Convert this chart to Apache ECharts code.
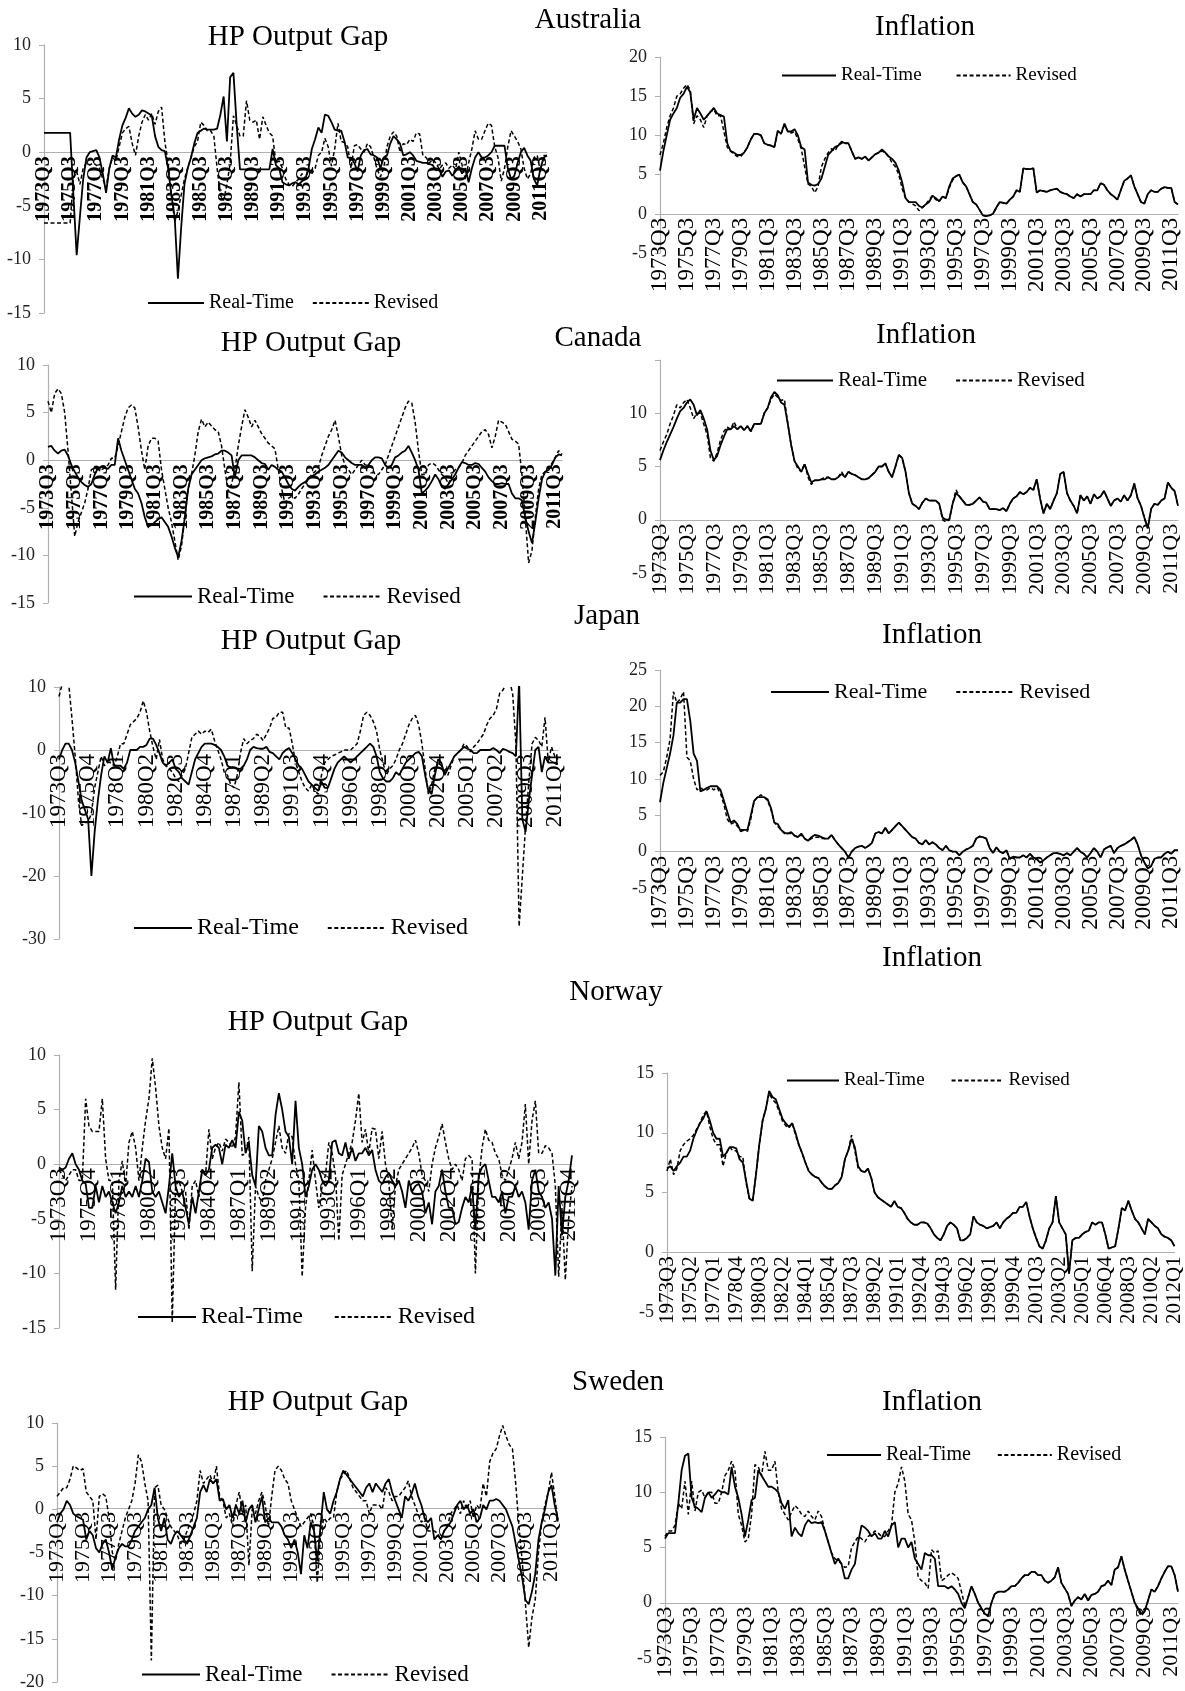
<!DOCTYPE html>
<html>
<head>
<meta charset="utf-8">
<script src="https://cdn.jsdelivr.net/npm/echarts@6/dist/echarts.min.js"></script>
<style>
html, body { margin: 0; padding: 0; background: #fff; }
#chart { width: 1185px; height: 1691px; }
</style>
</head>
<body>
<div id="chart"></div>
<script>
// quarterly categories 1973Q3 .. 2012Q1
var quarters = [];
for (var k = 0; k < 155; k++) {
    var m = k + 2;
    quarters.push((1973 + Math.floor(m / 4)) + 'Q' + (m % 4 + 1));
}

// ---- Australia ----
var auGapRT = [1.8,1.8,1.8,1.8,1.8,1.8,1.8,1.8,
 1.8,-4.0,-9.6,-6.0,-2.5,-0.5,0.0,0.1,
 0.2,-0.5,-2.0,-3.8,-1.5,-0.3,-0.5,1.2,
 2.5,3.2,4.1,3.6,3.3,3.5,3.9,3.8,
 3.6,3.4,1.5,0.5,0.2,0.1,-1.5,-4.0,
 -6.0,-11.8,-7.0,-3.0,-1.5,-0.5,0.8,1.8,
 2.0,2.2,2.1,2.1,2.1,2.2,3.5,5.2,
 1.0,7.0,7.4,2.5,-1.6,-1.6,-1.6,-1.6,
 -1.6,-1.6,-1.6,-1.6,-1.6,-1.6,0.3,-1.2,
 -1.5,-2.8,-3.0,-3.1,-2.9,-2.8,-3.0,-2.7,
 -2.5,-1.5,0.3,1.2,2.3,1.8,3.5,3.4,
 2.8,2.1,2.0,2.0,1.0,-0.5,-0.5,-1.0,
 -1.8,-0.3,0.2,0.3,-0.2,-0.3,-0.5,-1.5,
 -0.5,-0.3,0.8,1.5,1.2,0.8,-0.3,-0.2,
 0.0,-0.3,-0.8,-0.9,-1.0,-1.0,-1.1,-1.2,
 -1.7,-1.5,-2.3,-1.8,-1.7,-2.2,-1.8,-1.3,
 -2.0,-1.5,-2.8,-1.5,-0.5,0.0,-0.5,-0.5,
 -0.3,0.0,0.6,0.6,0.6,0.6,-1.5,-2.5,
 -2.2,-1.0,0.0,0.4,-0.3,-0.8,-2.5,-3.1,
 -1.5,-0.5,-0.3];
var auGapRev = [-6.6,-6.6,-6.6,-6.6,-6.6,-6.6,-6.6,-6.6,
 -6.6,-2.5,-1.8,-3.0,-1.5,-1.0,-1.2,-1.0,
 -1.2,-1.5,-2.5,-3.3,-1.5,-0.5,-0.8,0.5,
 1.8,2.2,2.4,0.8,-0.3,1.5,2.8,3.5,
 3.0,3.6,2.6,3.8,4.2,1.0,-1.0,-4.0,
 -6.5,-5.5,-4.0,-2.5,-1.5,-0.5,0.5,1.0,
 2.8,2.5,2.0,2.0,1.5,-1.5,-4.0,-4.5,
 -3.0,-1.0,3.4,2.5,1.5,1.5,4.8,3.0,
 2.8,3.0,1.2,3.3,2.5,1.8,1.5,-1.0,
 -0.8,-1.5,-2.5,-3.0,-3.2,-2.8,-2.5,-2.0,
 -2.5,-1.5,-2.0,-1.5,-0.3,0.0,1.3,0.5,
 -1.3,0.3,2.7,1.0,0.9,0.5,-1.5,0.6,
 0.7,0.3,0.0,0.8,0.5,-0.5,-1.6,-2.3,
 -1.5,0.5,1.5,1.9,1.5,0.0,0.8,0.7,
 1.2,1.0,1.8,1.7,-0.3,-0.5,-1.0,-0.7,
 -1.0,-1.6,-1.2,-1.0,-1.5,-1.2,-1.6,0.0,
 -1.2,-2.5,-1.0,0.3,2.0,1.2,1.2,2.0,
 2.7,2.5,0.5,-0.5,-2.7,-1.5,0.5,2.0,
 1.5,1.0,0.3,-1.5,-2.5,-2.0,-0.5,-0.3,
 -1.8,-0.3,-0.3];
var auInfRT = [5.5,8.0,10.0,12.0,12.8,13.5,14.8,15.3,
 16.2,15.5,12.0,13.5,12.8,12.0,12.5,13.0,
 13.5,12.8,12.6,12.4,9.0,8.0,7.8,7.5,
 7.5,7.8,8.5,9.5,10.2,10.2,10.0,9.0,
 8.8,8.7,8.5,10.6,10.2,11.5,10.5,10.5,
 10.8,10.0,8.5,8.2,4.0,3.7,3.6,3.8,
 4.5,6.0,7.5,8.0,8.5,8.7,9.2,9.0,
 9.0,8.0,7.0,7.2,7.0,7.3,6.8,7.2,
 7.6,7.8,8.2,7.8,7.3,7.0,6.5,5.5,
 4.0,2.0,1.5,1.5,1.5,1.0,0.8,1.2,
 1.5,2.3,2.0,1.6,2.2,2.0,3.5,4.5,
 4.8,5.0,4.0,3.5,2.5,1.5,1.2,0.5,
 -0.2,-0.3,-0.2,0.0,0.8,1.5,1.4,1.3,
 1.8,2.2,3.0,2.8,5.8,5.7,5.7,5.8,
 2.7,3.0,2.9,2.8,3.0,3.1,3.2,2.8,
 2.6,2.5,2.2,2.0,2.5,2.2,2.5,2.5,
 2.5,3.0,3.0,3.9,3.7,3.0,2.5,2.2,
 1.8,3.0,4.2,4.5,4.9,3.5,2.5,1.5,
 1.3,2.5,3.0,2.8,2.8,3.2,3.4,3.3,
 3.3,1.5,1.2];
var auInfRev = [7.5,9.0,11.0,12.5,13.5,15.0,15.3,16.0,
 16.5,15.8,11.5,12.5,12.0,11.0,12.5,13.0,
 13.3,12.5,12.5,10.5,8.5,8.0,7.6,7.3,
 7.3,7.8,8.5,9.5,10.2,10.2,10.0,9.0,
 8.8,8.7,8.5,10.4,10.2,11.3,10.5,10.3,
 10.5,9.5,8.3,6.0,3.8,3.5,2.7,3.5,
 6.0,7.0,7.8,8.3,8.0,8.8,9.0,9.0,
 9.0,8.0,7.0,7.2,7.0,7.3,6.8,7.2,
 7.6,7.8,8.0,7.8,7.3,6.5,6.0,5.0,
 3.2,2.0,1.5,1.3,1.0,0.4,0.8,1.2,
 1.8,2.3,1.8,1.6,2.2,2.0,3.3,4.3,
 4.8,5.0,4.0,3.5,2.5,1.5,1.2,0.5,
 -0.2,-0.3,-0.2,0.0,0.8,1.5,1.4,1.3,
 1.8,2.2,3.0,2.8,5.8,5.7,5.7,5.8,
 2.7,3.0,2.9,2.8,3.0,3.1,3.2,2.8,
 2.6,2.5,2.2,2.0,2.5,2.2,2.5,2.5,
 2.5,3.0,3.0,3.9,3.7,3.0,2.5,2.2,
 1.8,3.0,4.2,4.5,4.9,3.5,2.5,1.5,
 1.3,2.5,3.0,2.8,2.8,3.2,3.4,3.3,
 3.3,1.5,1.2];

// ---- Canada ----
var caGapRT = [1.4,1.5,1.0,0.7,1.0,1.1,0.5,-0.5,
 -1.2,-1.8,-2.3,-2.6,-2.8,-2.5,-1.5,-0.8,
 -0.7,-0.8,-0.9,-0.5,-0.5,2.3,1.0,0.0,
 -1.0,-2.0,-3.0,-3.5,-4.5,-6.0,-7.0,-6.8,
 -6.5,-6.2,-6.0,-6.5,-7.0,-8.0,-9.2,-10.2,
 -8.5,-6.0,-3.0,-1.5,-1.0,-0.5,0.0,0.2,
 0.3,0.4,0.6,0.7,1.0,1.0,0.8,0.5,
 -1.8,0.0,0.5,0.5,0.5,0.5,0.3,0.0,
 -0.3,-0.4,-1.0,-0.5,-0.7,-1.0,-1.2,-1.8,
 -2.5,-3.0,-3.2,-2.8,-2.5,-2.3,-2.0,-1.7,
 -1.5,-1.2,-1.0,-0.8,-0.5,0.0,0.5,1.0,
 0.8,0.3,0.0,-0.3,-0.5,-0.5,-0.5,-0.8,
 -0.5,0.0,0.3,0.3,0.2,-0.5,-0.8,-0.5,
 0.3,0.5,0.8,1.0,1.5,0.8,0.0,-1.0,
 -3.5,-3.2,-2.8,-2.2,-1.5,-2.0,-2.8,-3.0,
 -2.5,-2.0,-1.5,-0.8,-0.2,-0.3,-0.5,-0.5,
 -0.3,-0.4,-0.8,-1.2,-1.8,-2.2,-2.5,-2.5,
 -2.4,-2.5,-2.5,-3.5,-4.0,-4.0,-4.2,-6.0,
 -7.5,-8.7,-6.5,-4.0,-2.0,-1.2,-1.0,-0.5,
 0.3,0.6,0.5];
var caGapRev = [6.2,5.0,7.0,7.5,7.0,5.0,1.0,-3.5,
 -8.0,-6.5,-5.5,-4.5,-3.0,-1.0,-0.8,-1.0,
 -1.0,-0.8,-0.5,0.2,0.2,1.5,3.0,4.5,
 5.5,5.8,5.5,3.5,1.0,-1.0,1.5,2.3,
 2.3,2.0,-1.0,-3.0,-5.0,-6.5,-8.5,-10.5,
 -9.0,-6.0,-3.0,-1.5,0.5,3.0,4.3,3.5,
 4.0,3.6,3.2,3.0,1.5,-1.0,-3.3,-2.5,
 -1.0,1.5,3.5,5.3,4.5,3.5,4.2,3.5,
 2.8,2.3,1.8,1.5,1.2,-1.0,-3.0,-4.5,
 -4.0,-3.8,-4.0,-3.6,-3.0,-2.5,-2.0,-1.5,
 -1.2,-0.8,0.5,1.5,2.5,3.2,4.2,2.5,
 0.5,-0.5,-1.0,-1.5,-1.0,-0.5,0.0,-0.5,
 -0.5,-0.8,-1.5,-1.5,-1.0,-0.5,0.5,1.5,
 2.5,3.5,4.5,5.5,6.2,6.0,4.0,1.0,
 -1.5,-1.5,-0.5,-0.3,-0.5,-1.0,-1.5,-1.8,
 -2.5,-1.5,-1.0,-0.8,-0.3,0.5,1.0,1.5,
 2.0,2.5,3.0,3.2,2.7,1.3,2.5,4.2,
 4.0,3.8,3.0,2.2,2.0,1.7,-1.5,-6.0,
 -10.8,-9.5,-6.0,-3.0,-1.5,-1.2,-1.0,-0.3,
 0.3,1.0,0.6];
var caInfRT = [5.6,6.5,7.3,8.0,8.7,9.5,10.2,10.5,
 11.0,11.3,10.8,9.8,10.3,9.5,8.5,6.5,
 5.6,6.0,7.0,7.8,8.5,8.5,8.8,8.5,
 8.8,8.4,8.8,8.3,9.0,9.0,9.0,10.0,
 10.5,11.5,12.0,11.7,11.0,10.8,9.0,7.0,
 5.5,5.0,4.5,5.2,4.3,3.5,3.7,3.7,
 3.8,3.8,4.0,3.8,3.8,4.0,4.3,4.0,
 4.5,4.3,4.2,4.0,3.8,3.8,3.9,4.2,
 4.5,5.0,5.0,5.3,4.5,4.0,5.0,6.1,
 5.8,4.5,2.5,1.5,1.3,1.0,1.6,2.0,
 1.8,1.8,1.8,1.5,0.2,0.0,0.0,1.5,
 2.5,2.2,1.8,1.4,1.4,1.5,1.8,2.1,
 1.7,1.6,1.0,1.0,1.0,0.9,1.1,0.8,
 1.5,2.0,2.2,2.6,2.4,2.6,3.0,2.8,
 3.8,2.0,0.6,1.5,1.0,1.8,2.5,4.3,
 4.5,2.5,1.8,1.3,0.6,2.3,1.8,2.2,
 1.5,2.4,2.0,2.2,2.7,2.0,1.3,1.8,
 2.0,1.7,2.3,1.8,2.3,3.4,2.0,1.3,
 0.2,-0.8,1.0,1.5,1.4,1.8,2.0,3.5,
 3.0,2.7,1.3];
var caInfRev = [6.5,7.3,8.0,9.0,9.8,10.8,10.5,11.0,
 11.3,10.5,9.5,10.0,10.0,9.0,8.0,5.8,
 5.5,6.3,7.5,8.3,8.7,8.5,9.2,8.5,
 8.8,8.4,8.8,8.3,9.0,9.0,9.0,10.0,
 10.5,11.3,11.8,11.5,11.2,11.3,9.0,7.0,
 5.5,4.8,4.5,5.3,4.0,3.3,3.7,3.7,
 3.8,4.0,4.0,3.8,3.8,4.0,4.5,4.0,
 4.5,4.3,4.2,4.0,3.8,3.8,3.9,4.2,
 4.5,5.0,5.0,5.3,4.5,4.0,5.0,6.1,
 5.8,4.5,2.5,1.5,1.3,1.0,1.6,2.0,
 1.8,1.8,1.8,1.5,0.0,-0.2,0.0,1.5,
 2.8,2.2,1.8,1.4,1.4,1.5,1.8,2.1,
 1.7,1.6,1.0,1.0,1.0,0.9,1.1,0.8,
 1.5,2.0,2.2,2.6,2.4,2.6,3.0,2.8,
 3.8,2.0,0.6,1.5,1.0,1.8,2.5,4.3,
 4.5,2.5,1.8,1.3,0.6,2.3,1.8,2.2,
 1.5,2.4,2.0,2.2,2.7,2.0,1.3,1.8,
 2.0,1.7,2.3,1.8,2.3,3.4,2.0,1.3,
 0.2,-0.8,1.0,1.5,1.4,1.8,2.0,3.5,
 3.0,2.7,1.3];

// ---- Japan ----
var jpGapRT = [-1.5,0.0,1.0,1.0,0.0,-2.0,-5.0,-8.0,
 -9.5,-11.0,-20.0,-13.0,-8.0,-4.0,-1.0,-2.0,
 0.3,-2.5,-2.5,-2.5,-3.0,-2.0,0.0,0.0,
 0.0,0.5,0.5,0.8,1.8,1.8,0.8,-0.5,
 -2.0,-2.5,-2.0,-1.5,-3.0,-3.5,-4.5,-5.0,
 -5.5,-3.5,-1.5,-0.5,0.5,1.0,1.0,1.0,
 0.8,0.5,0.0,-1.0,-2.5,-2.8,-2.8,-3.0,
 -3.0,-2.5,-1.5,0.0,0.5,0.3,0.2,0.2,
 0.5,-0.3,-0.5,-1.0,-1.5,-0.5,0.0,0.3,
 -0.5,-1.5,-2.5,-3.0,-4.0,-5.0,-5.5,-6.0,
 -6.5,-5.0,-6.0,-6.0,-4.5,-3.0,-2.0,-1.5,
 -1.0,-1.5,-2.0,-1.5,-1.0,-0.5,0.0,0.5,
 1.0,0.5,-1.0,-3.5,-4.5,-5.0,-5.0,-4.5,
 -3.5,-4.0,-3.0,-2.0,-1.5,-1.0,-0.5,-0.3,
 -1.0,-4.0,-6.5,-7.0,-4.0,-1.5,-2.0,-4.0,
 -3.0,-2.0,-1.0,-0.5,0.0,0.5,0.2,0.0,
 -0.5,-0.5,0.0,0.0,0.0,0.0,0.3,0.0,
 -0.5,0.2,0.0,-0.3,-0.5,-1.0,11.0,-11.0,
 -13.0,-8.0,-4.0,0.0,0.5,-3.5,-1.0,-2.0,
 -2.0,-2.0,-2.2];
var jpGapRev = [8.5,10.5,11.0,10.5,5.0,-1.0,-8.0,-12.0,
 -11.5,-11.5,-10.0,-6.0,-3.5,-1.0,-2.5,-2.0,
 -2.0,-2.5,-1.0,1.0,1.0,2.5,4.0,4.5,
 5.0,6.0,7.8,6.0,3.0,0.5,-1.5,1.7,
 -1.5,-2.5,-3.0,-3.5,-4.5,-5.0,-4.0,-3.0,
 -0.5,2.0,2.5,3.0,2.5,3.0,2.8,3.3,
 1.5,0.0,-1.5,-3.5,-4.0,-5.5,-6.0,-4.0,
 -0.5,1.8,1.0,1.5,1.8,2.5,2.2,1.5,
 2.5,3.5,5.0,5.2,6.0,6.0,3.5,3.5,
 1.0,-2.0,-3.5,-5.0,-6.0,-6.5,-5.5,-6.5,
 -7.0,-4.0,-2.0,-1.5,-1.0,-0.8,-0.5,-0.3,
 0.0,0.0,0.0,0.5,1.0,3.0,5.5,6.0,
 5.5,4.5,3.0,0.0,-2.0,-4.0,-3.0,-2.5,
 -1.5,0.0,1.0,2.5,4.0,5.0,5.5,4.0,
 1.0,-3.0,-7.0,-5.5,-3.0,-2.0,-2.5,-3.5,
 -4.0,-2.5,-1.0,-0.5,0.0,1.0,0.5,-0.3,
 0.5,1.0,1.8,2.5,4.0,5.0,5.5,6.5,
 9.0,9.5,10.5,11.0,9.0,1.0,-28.0,-20.0,
 -12.0,-5.0,1.0,2.0,1.5,0.5,5.2,-2.0,
 0.5,-1.0,-1.5];
var jpInfRT = [6.8,9.5,11.5,13.5,16.0,20.5,20.5,21.0,
 21.0,18.0,13.5,12.5,8.3,8.5,8.8,9.0,
 9.0,9.0,8.5,7.0,5.5,4.0,4.3,3.8,
 2.8,3.0,3.0,5.0,7.0,7.5,7.5,7.5,
 7.2,6.0,4.0,3.8,3.0,2.6,2.5,2.7,
 2.2,2.0,2.5,1.8,1.5,2.0,2.3,2.2,
 2.0,1.8,1.8,2.3,1.6,1.0,0.5,0.0,
 -0.8,0.0,0.5,0.7,0.8,0.5,0.8,1.2,
 2.5,2.7,2.5,3.3,2.5,3.0,3.5,4.0,
 3.5,3.0,2.5,2.0,1.8,1.2,1.0,1.6,
 1.0,1.3,1.0,0.5,0.2,0.8,0.2,0.0,
 0.0,-0.5,0.0,0.3,0.5,0.8,1.8,2.1,
 2.0,1.8,0.5,-0.2,0.6,0.0,-0.2,0.2,
 -1.0,-0.7,-0.8,-0.8,-0.5,-0.8,-0.3,-0.8,
 -1.0,-1.5,-1.2,-0.8,-0.5,-0.2,-0.2,-0.3,
 -0.5,-0.2,-0.5,0.0,0.5,0.0,-0.3,-0.8,
 -0.2,0.5,0.0,-0.8,0.3,0.6,0.8,-0.2,
 0.5,0.8,1.0,1.3,1.6,2.0,1.0,-0.5,
 -1.5,-2.3,-2.0,-1.0,-0.8,-0.8,-0.3,0.0,
 -0.3,0.2,0.2];
var jpInfRev = [10.5,11.0,13.0,15.5,22.0,20.5,21.0,22.0,
 13.0,12.5,10.0,8.5,8.8,8.5,8.5,8.8,
 8.5,8.8,8.0,6.5,4.5,3.8,4.0,3.5,
 3.0,3.0,2.8,4.5,7.0,7.5,7.8,7.5,
 7.0,5.8,4.0,3.5,3.0,2.5,2.5,2.5,
 2.2,2.0,2.3,1.8,1.5,1.8,2.0,2.0,
 1.8,1.8,1.8,2.3,1.6,1.0,0.5,0.0,
 -0.8,0.0,0.5,0.7,0.8,0.5,0.8,1.2,
 2.5,2.7,2.5,3.3,2.5,3.0,3.5,4.0,
 3.5,3.0,2.5,2.0,1.8,1.2,1.0,1.6,
 1.0,1.3,1.0,0.5,0.2,0.8,0.2,0.0,
 0.0,-0.5,0.0,0.3,0.5,0.8,1.8,2.1,
 2.0,1.8,0.5,-0.2,0.6,0.0,-0.2,0.2,
 -1.0,-0.7,-0.8,-0.8,-0.5,-0.8,-0.3,-0.8,
 -1.0,-1.5,-1.2,-0.8,-0.5,-0.2,-0.2,-0.3,
 -0.5,-0.2,-0.5,0.0,0.5,0.0,-0.3,-0.8,
 -0.2,0.5,0.0,-0.8,0.3,0.6,0.8,-0.2,
 0.5,0.8,1.0,1.3,1.6,2.0,1.0,-0.5,
 -1.5,-2.3,-2.0,-1.0,-0.8,-0.8,-0.3,0.0,
 -0.3,0.2,0.2];

// ---- Norway ----
var noGapRT = [-0.3,-0.5,-0.3,0.5,1.0,0.0,-0.5,-1.5,
 -1.8,-4.0,-4.0,-2.0,-3.5,-2.0,-3.0,-2.5,
 -3.5,-4.5,-3.5,-2.0,-3.0,-2.5,-3.0,-2.0,
 -3.0,-1.5,0.5,0.2,-2.5,-3.0,-2.5,-3.5,
 -4.5,-2.0,1.0,-2.0,-3.0,-2.5,-4.0,-5.5,
 -3.0,-4.5,-2.5,-0.5,-1.0,-0.5,1.5,1.8,
 1.5,0.0,1.8,1.5,2.2,1.5,4.8,4.0,
 1.0,2.0,-1.0,-2.0,3.5,3.0,1.5,0.8,
 0.8,4.5,6.5,5.0,3.0,2.5,0.0,5.8,
 1.5,0.0,-3.0,-2.0,-0.5,0.0,-0.5,-1.5,
 -2.0,-1.5,2.0,2.2,1.0,0.8,2.0,0.5,
 1.5,0.3,1.0,1.0,1.5,0.8,1.3,-0.5,
 -1.5,-1.8,-1.2,-0.8,-1.5,-2.0,-1.5,-2.5,
 -4.0,-1.5,-2.5,-2.0,-1.8,-2.5,-4.5,-3.5,
 -5.5,-2.5,-2.0,-0.5,-2.5,-4.0,-4.0,-5.5,
 -5.3,-4.0,-3.0,-3.5,-2.0,-6.0,-1.0,-0.3,
 0.0,-1.5,-3.0,-3.0,-3.5,-2.5,-4.5,-3.0,
 -3.0,-2.0,-3.0,-2.5,-3.5,-6.0,-1.5,-0.5,
 -2.5,-3.0,-4.0,-3.5,-5.0,-10.2,-2.0,-6.5,
 -3.0,-1.5,0.8];
var noGapRev = [-0.5,-1.0,-1.5,-1.0,-0.5,-0.5,-1.5,-1.5,
 6.0,3.5,3.0,3.0,3.0,6.0,0.5,-1.5,
 -1.5,-11.5,-1.5,0.3,-2.0,2.0,3.0,1.5,
 -1.5,1.5,4.0,6.0,9.7,7.0,3.5,1.5,
 0.5,3.3,-14.5,-2.0,-1.5,-2.5,-2.5,-6.0,
 -2.0,-1.5,-3.0,-0.5,-1.0,3.2,0.5,1.5,
 2.0,1.2,2.3,2.0,1.5,2.5,7.5,0.8,
 1.0,2.5,-9.8,-2.0,-3.0,-3.5,-1.5,-0.5,
 0.5,2.0,3.5,1.5,1.0,2.8,2.5,0.0,
 -1.5,-10.3,-4.0,-1.5,1.3,-1.5,-4.0,-2.0,
 -1.0,2.0,1.0,-1.0,-7.0,-1.0,0.0,1.0,
 2.0,4.0,6.5,2.0,3.2,1.0,3.3,3.2,
 0.5,3.0,0.0,-1.5,-6.0,-2.0,-0.5,0.0,
 0.5,1.0,1.5,2.2,1.0,-1.0,-1.5,-2.5,
 0.0,1.5,2.5,3.7,2.0,0.5,-0.5,0.0,
 -0.5,-1.5,0.5,0.8,0.5,-10.0,-1.5,1.5,
 3.2,2.2,2.0,1.0,0.5,-1.0,-1.5,-0.5,
 0.5,2.0,0.5,2.0,5.5,0.0,4.0,5.8,
 1.0,1.0,1.7,1.5,1.0,-2.0,-10.3,-4.0,
 -10.6,-5.0,-2.0];
var noInfRT = [7.0,7.2,6.8,7.2,7.5,8.0,8.0,8.5,
 9.5,10.2,10.8,11.2,11.8,11.0,10.0,9.5,
 9.5,8.0,8.3,8.8,8.8,8.7,7.8,7.5,
 6.0,4.5,4.3,6.5,9.0,11.0,12.0,13.5,
 13.0,12.8,12.0,11.2,10.8,10.5,10.8,10.0,
 9.0,8.3,7.5,6.8,6.5,6.3,6.2,5.8,
 5.5,5.3,5.3,5.6,5.8,6.3,7.8,8.5,
 9.5,8.8,7.2,6.8,6.7,7.0,6.2,5.0,
 4.6,4.4,4.2,4.0,3.8,4.3,3.8,3.7,
 3.3,2.8,2.5,2.3,2.3,2.5,2.5,2.4,
 2.0,1.5,1.2,1.0,1.5,2.2,2.5,2.3,
 2.0,1.0,1.0,1.2,1.5,3.0,2.5,2.3,
 2.2,2.0,2.1,2.2,2.5,2.0,2.5,2.8,
 3.0,3.3,3.3,3.8,3.8,4.2,3.0,2.0,
 1.2,0.5,0.3,1.0,2.0,2.5,4.7,2.5,
 2.0,1.5,-1.8,1.0,1.2,1.2,1.5,1.7,
 1.8,2.5,2.3,2.5,2.5,1.5,0.3,0.4,
 0.5,2.0,3.7,3.5,4.3,3.5,2.8,2.5,
 2.0,1.5,2.8,2.5,2.2,2.0,1.5,1.3,
 1.2,1.0,0.5];
var noInfRev = [6.8,7.8,6.5,7.0,8.5,9.0,9.3,9.5,
 9.8,10.3,10.8,11.5,11.8,10.5,9.5,9.0,
 9.0,7.2,8.3,8.8,8.5,8.5,8.0,8.0,
 5.8,4.5,4.3,6.5,9.0,11.0,12.0,13.3,
 12.8,12.5,11.8,11.0,10.6,10.4,10.8,9.8,
 9.0,8.3,7.5,6.8,6.5,6.3,6.2,5.8,
 5.5,5.3,5.3,5.6,5.8,6.3,7.8,8.5,
 9.8,8.5,7.0,6.8,6.7,7.0,6.2,5.0,
 4.6,4.4,4.2,4.0,3.8,4.3,3.8,3.7,
 3.3,2.8,2.5,2.3,2.3,2.5,2.5,2.4,
 2.0,1.5,1.2,1.0,1.5,2.2,2.5,2.3,
 2.0,1.0,1.0,1.2,1.5,3.0,2.5,2.3,
 2.2,2.0,2.1,2.2,2.5,2.0,2.5,2.8,
 3.0,3.3,3.3,3.8,3.8,4.2,3.0,2.0,
 1.2,0.5,0.3,1.0,2.0,2.5,4.7,2.5,
 2.0,1.5,-1.8,1.0,1.2,1.2,1.5,1.7,
 1.8,2.5,2.3,2.5,2.5,1.5,0.3,0.4,
 0.5,2.0,3.7,3.5,4.3,3.5,2.8,2.5,
 2.0,1.5,2.8,2.5,2.2,2.0,1.5,1.3,
 1.2,1.0,0.5];

// ---- Sweden ----
var seGapRT = [-1.5,-0.5,0.0,1.0,0.5,-0.5,-0.8,-1.0,
 -1.2,-3.5,-2.5,-3.0,-4.5,-5.0,-4.0,-3.5,
 -5.0,-7.0,-5.5,-4.5,-4.0,-4.3,-4.3,-3.5,
 -2.5,-2.0,-1.5,-1.0,0.0,0.5,2.5,-1.0,
 -2.5,-1.0,-3.5,-4.0,-3.0,-2.5,-3.0,-3.5,
 -4.0,-3.0,-2.0,-1.0,2.0,2.8,2.0,3.5,
 3.0,3.5,1.0,1.2,0.0,0.5,-1.0,0.5,
 -0.5,1.0,-1.5,0.0,0.5,-1.5,0.0,1.5,
 -1.5,-1.0,-1.5,-1.5,-1.5,-2.0,-3.0,-3.5,
 -4.5,-3.5,-5.0,-7.5,-3.0,-4.5,-1.5,-2.5,
 -6.0,-2.0,2.0,0.0,-0.5,1.0,2.0,3.5,
 4.5,4.0,3.5,3.0,2.5,2.0,1.5,2.5,
 3.0,2.0,3.0,2.5,2.0,3.0,3.5,2.0,
 1.0,0.0,-1.0,1.5,1.0,1.8,3.0,1.5,
 0.5,-1.0,-1.5,-1.0,-3.5,-3.0,-3.5,-2.5,
 -2.0,-1.5,-0.5,0.5,1.0,0.0,0.5,-0.5,
 0.0,-1.5,-1.0,0.5,0.0,1.0,1.0,1.2,
 1.0,0.5,0.0,-1.0,-2.0,-4.0,-6.0,-8.0,
 -10.5,-11.0,-9.5,-7.5,-3.5,-1.5,0.0,2.0,
 2.8,0.5,-1.2];
var seGapRev = [1.5,2.0,2.5,2.5,3.5,5.0,4.8,4.5,
 4.7,2.0,1.5,1.0,-3.5,1.5,1.8,1.5,
 -1.0,-5.0,-6.0,-4.0,-2.5,-1.0,0.0,1.0,
 3.0,6.3,5.5,3.0,1.0,-17.5,2.5,2.8,
 0.5,0.0,-1.0,-2.0,-2.5,-3.0,-4.0,-3.5,
 -2.5,-1.5,-0.5,1.0,4.5,3.0,3.5,4.0,
 3.0,5.0,1.5,1.0,-1.0,-0.5,-2.0,0.5,
 2.0,-0.5,0.5,-6.5,0.0,-0.5,1.0,2.0,
 0.5,-2.0,1.5,4.5,5.0,4.5,3.5,3.0,
 1.0,0.0,-1.0,-2.0,-1.5,-1.0,-0.5,-2.0,
 -8.5,-3.0,-1.0,-1.5,-1.0,-1.0,2.0,3.5,
 4.0,4.5,3.5,2.5,2.0,1.5,1.0,1.0,
 -0.5,0.5,0.5,0.5,0.0,2.5,2.0,1.0,
 1.5,1.5,2.0,2.5,3.3,1.5,0.5,-0.5,
 -1.5,-1.0,-2.5,-2.5,-2.5,-2.8,-3.5,-2.5,
 -2.0,-0.5,0.0,0.5,-0.5,1.0,0.0,1.0,
 -1.0,0.5,0.0,3.0,1.5,5.5,6.5,7.0,
 8.5,9.7,8.5,7.5,7.0,3.0,-2.0,-6.0,
 -11.0,-16.0,-12.5,-10.5,-5.0,-1.5,0.5,2.0,
 4.3,1.5,-1.5];
var seInfRT = [5.8,6.3,6.3,6.3,9.0,12.0,13.3,13.5,
 9.5,8.7,8.5,8.2,9.5,10.0,9.5,9.8,
 10.2,10.0,10.0,9.8,12.3,10.5,9.5,8.0,
 6.0,7.5,9.3,9.5,12.0,11.5,11.0,10.5,
 10.5,10.3,10.0,9.0,8.5,9.3,6.0,6.8,
 6.3,6.0,7.0,7.5,7.2,7.3,7.2,7.3,
 6.5,5.5,4.5,3.5,4.0,3.5,2.2,2.2,
 3.0,3.5,5.5,7.0,6.8,6.5,6.0,6.3,
 5.8,5.8,6.5,6.0,7.0,7.3,5.0,5.8,
 5.8,5.0,5.5,4.0,3.5,3.0,4.5,4.3,
 4.3,4.0,1.5,1.5,1.5,1.3,1.5,1.2,
 0.8,0.0,-0.5,0.5,1.5,0.8,0.0,-0.5,
 -1.0,-1.2,0.0,0.8,1.0,1.0,1.0,1.2,
 1.5,1.5,1.8,2.2,2.5,2.5,2.8,2.8,
 2.5,2.5,2.0,1.8,2.0,2.3,3.2,1.8,
 1.3,0.8,-0.3,0.2,0.5,0.3,0.8,0.2,
 0.7,0.8,1.0,1.5,1.6,2.0,1.6,3.0,
 3.2,4.2,3.0,2.0,1.0,0.0,-0.5,-1.0,
 -0.8,0.2,1.2,1.0,1.5,2.2,2.8,3.3,
 3.3,2.5,1.0];
var seInfRev = [6.0,6.5,6.5,7.0,9.0,8.5,11.0,8.0,
 11.0,8.3,10.0,10.2,9.5,10.0,10.0,9.0,
 9.0,10.0,11.5,12.0,12.8,12.0,8.0,7.0,
 5.5,5.8,8.0,12.5,12.3,11.5,13.7,12.0,
 12.0,12.8,10.0,8.5,8.0,7.5,8.2,8.8,
 8.5,8.0,7.8,8.3,7.8,7.5,8.3,7.8,
 6.5,5.5,4.5,4.0,3.8,3.5,3.2,3.3,
 5.0,5.5,6.0,5.8,5.5,6.0,6.2,6.5,
 6.3,6.0,6.0,6.5,7.0,10.0,10.8,12.3,
 11.0,8.0,7.5,5.5,2.3,2.0,1.8,1.3,
 4.8,4.5,4.7,2.0,2.2,2.5,2.7,2.5,
 2.2,1.0,-0.3,0.5,1.5,0.8,0.0,-0.5,
 -1.0,-1.2,0.0,0.8,1.0,1.0,1.0,1.2,
 1.5,1.5,1.8,2.2,2.5,2.5,2.8,2.8,
 2.5,2.5,2.0,1.8,2.0,2.3,3.2,1.8,
 1.3,0.8,-0.3,0.2,0.5,0.3,0.8,0.2,
 0.7,0.8,1.0,1.5,1.6,2.0,1.6,3.0,
 3.2,4.2,3.0,2.0,1.0,0.0,-0.7,-1.2,
 -0.8,0.2,1.2,1.0,1.5,2.2,2.8,3.3,
 3.3,2.5,1.0];

// layout of the ten panels: grid box [left, top, width, height], y range [min, max, step],
// label step, label font, legend [left, centreY, fontSize, gap, iconWidth]
var panels = [
    {rt: auGapRT, rev: auGapRev, box: [44, 45, 503, 268], y: [-15, 10, 5], every: 7, xf: 20, bold: true, lg: [142, 300, 20, 18, 56]},
    {rt: auInfRT, rev: auInfRev, box: [660, 57, 518, 196], y: [-5, 20, 5], every: 7, xf: 23, lg: [776, 73, 19, 34, 54]},
    {rt: caGapRT, rev: caGapRev, box: [48, 365, 514, 238], y: [-15, 10, 5], every: 7, xf: 20, bold: true, lg: [128, 592, 23, 28, 58]},
    {rt: caInfRT, rev: caInfRev, box: [660, 360, 518, 213], y: [-5, 15, 5], every: 7, xf: 22, hideTop: true, lg: [771, 377, 21, 28, 56]},
    {rt: jpGapRT, rev: jpGapRev, box: [59, 687, 499, 252], y: [-30, 10, 10], every: 8, xf: 23, lg: [128, 923, 24, 28, 58]},
    {rt: jpInfRT, rev: jpInfRev, box: [660, 670, 518, 218], y: [-5, 25, 5], every: 7, xf: 23, lg: [765, 688, 22, 28, 58]},
    {rt: noGapRT, rev: noGapRev, box: [59, 1055, 513, 273], y: [-15, 10, 5], every: 8, xf: 23, lg: [132, 1312, 24, 31, 58]},
    {rt: noInfRT, rev: noInfRev, box: [667, 1073, 508, 239], y: [-5, 15, 5], every: 6, xf: 21, lg: [781, 1078, 19, 26, 52]},
    {rt: seGapRT, rev: seGapRev, box: [57, 1423, 501, 261], y: [-20, 10, 5], every: 7, xf: 22, lg: [136, 1670, 23, 28, 58]},
    {rt: seInfRT, rev: seInfRev, box: [665, 1437, 513, 221], y: [-5, 15, 5], every: 7, xf: 22, lg: [821, 1452, 20, 26, 54]}
];

var titles = [
    ['Australia', 588, 20], ['HP Output Gap', 298, 37], ['Inflation', 925, 27],
    ['Canada', 598, 338], ['HP Output Gap', 311, 343], ['Inflation', 926, 335],
    ['Japan', 607, 616], ['HP Output Gap', 311, 641], ['Inflation', 932, 635],
    ['Inflation', 932, 958], ['Norway', 616, 992], ['HP Output Gap', 318, 1022],
    ['Sweden', 618, 1382], ['HP Output Gap', 318, 1402], ['Inflation', 932, 1402]
];

var FONT = 'Liberation Serif';
var AXIS_GRAY = '#b0b0b0';

var grid = [], xAxis = [], yAxis = [], series = [], legend = [];

panels.forEach(function (p, i) {
    var h = p.box[3];
    // distance from the grid bottom up to the zero line: the category axis sits there
    var zeroUp = h * (0 - p.y[0]) / (p.y[1] - p.y[0]);
    grid.push({left: p.box[0], top: p.box[1], width: p.box[2], height: h});
    xAxis.push({
        type: 'category', gridIndex: i, data: quarters, boundaryGap: false,
        position: 'bottom', offset: -zeroUp,
        axisLine: {onZero: false, lineStyle: {color: AXIS_GRAY, width: 1.2}},
        axisTick: {show: false},
        splitLine: {show: false},
        axisLabel: {
            interval: p.every, rotate: 90, margin: 4,
            fontFamily: FONT, fontSize: p.xf, color: '#000',
            fontWeight: p.bold ? 'bold' : 'normal'
        }
    });
    var top = p.y[1];
    yAxis.push({
        type: 'value', gridIndex: i, min: p.y[0], max: p.y[1], interval: p.y[2],
        axisLine: {show: true, onZero: false, lineStyle: {color: AXIS_GRAY, width: 1.2}},
        axisTick: {show: true, length: 5, lineStyle: {color: AXIS_GRAY}},
        splitLine: {show: false},
        axisLabel: {
            fontFamily: FONT, fontSize: 18, color: '#222', margin: 13,
            formatter: function (v) { return (p.hideTop && v === top) ? '' : String(v); }
        }
    });
    series.push({
        type: 'line', name: 'Real-Time', xAxisIndex: i, yAxisIndex: i, data: p.rt,
        symbol: 'none', z: 3,
        lineStyle: {color: '#000', width: 1.8},
        itemStyle: {color: '#000'}
    });
    series.push({
        type: 'line', name: 'Revised', xAxisIndex: i, yAxisIndex: i, data: p.rev,
        symbol: 'none', z: 2,
        lineStyle: {color: '#000', width: 1.5, type: [4, 2.5]},
        itemStyle: {color: '#000'}
    });
    legend.push({
        data: ['Real-Time', 'Revised'],
        left: p.lg[0], top: p.lg[1] - 12,
        itemWidth: p.lg[4], itemHeight: 12, itemGap: p.lg[3],
        selectedMode: false,
        itemStyle: {opacity: 0},
        textStyle: {fontFamily: FONT, fontSize: p.lg[2], color: '#000'}
    });
});

var graphic = titles.map(function (t) {
    return {
        type: 'text', x: t[1], y: t[2], silent: true,
        style: {
            text: t[0], fill: '#000', font: '29px "' + FONT + '"',
            align: 'center', verticalAlign: 'middle',
            textAlign: 'center', textVerticalAlign: 'middle'
        }
    };
});

var myChart = echarts.init(document.getElementById('chart'));
myChart.setOption({
    animation: false,
    backgroundColor: '#fff',
    grid: grid,
    xAxis: xAxis,
    yAxis: yAxis,
    legend: legend,
    series: series,
    graphic: graphic
});
</script>
</body>
</html>
